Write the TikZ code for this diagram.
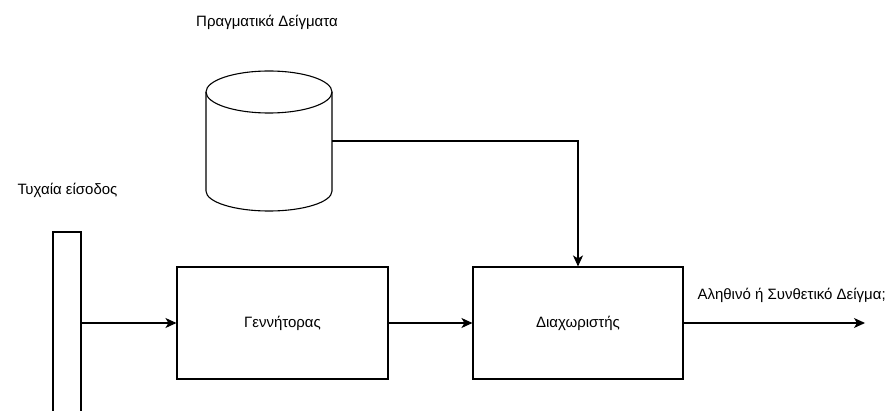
\documentclass[tikz,border=0pt]{standalone}
\usepackage{fontspec}
\setmainfont{Liberation Sans}
\usetikzlibrary{arrows.meta}
\begin{document}
\begin{tikzpicture}[x=1pt,y=1pt,
  line width=1.1pt,
  every node/.style={font=\fontsize{15}{18}\selectfont},
  box/.style={draw, rectangle, minimum width=211pt, minimum height=112pt, inner sep=0pt},
  lbl/.style={inner sep=0pt},
  arr/.style={-{Stealth[length=11pt,width=10pt,inset=3pt]}}]
\useasboundingbox (0,0) rectangle (892,410);
\begin{scope}
\clip (0,0) rectangle (892,410);
\node[draw, rectangle, minimum width=28pt, minimum height=182pt, inner sep=0pt] (bar) at (67,87) {};
\end{scope}
\node[box] (gen) at (282.5,87) {Γεννήτορας};
\node[box, minimum width=210pt] (disc) at (578,87) {Διαχωριστής};
% cylinder
\draw (206,318) -- (206,219) arc[start angle=180, end angle=360, x radius=63, y radius=20] -- (332,318);
\draw (269,318) ellipse[x radius=63, y radius=21];
\coordinate (db) at (332,269);
\coordinate (out) at (865,87);
\node[lbl] (real) at (267,388) {Πραγματικά Δείγματα};
\node[lbl] (rand) at (67.5,220) {Τυχαία είσοδος};
\node[lbl, anchor=west] (outl) at (697,115) {Αληθινό ή Συνθετικό Δείγμα;};
\draw[arr] (bar.east) -- (gen.west);
\draw[arr] (gen.east) -- (disc.west);
\draw[arr] (db) -| (disc.north);
\draw[arr] (disc.east) -- (out);
\end{tikzpicture}
\end{document}
